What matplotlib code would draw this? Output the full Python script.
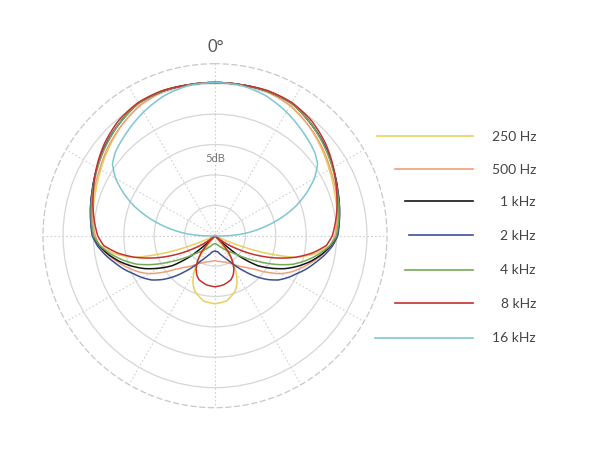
import numpy as np
import matplotlib
matplotlib.use("Agg")
import matplotlib.pyplot as plt
from matplotlib.lines import Line2D

# ---------------- data (dB, one half of the symmetric pattern, 0..180 deg) -------------
angles = [0, 10, 20, 30, 40, 50, 60, 70, 80, 90, 95, 100, 105, 110, 115, 120,
          125, 130, 135, 140, 145, 150, 155, 160, 170, 180]

db_250 = [0.2, 0.2, 0.2, -0.2, -1.2, -2.3, -3.3, -4.1, -4.6, -5.1, -6.1, -8.1, -11.2,
          -17.6, -25, -25, -25, -25, -25, -25, -20.1, -18.1, -16.4, -15.3, -14.1, -13.8]
db_500 = [0.2, 0.2, 0.2, -0.3, -1.2, -2.1, -3.1, -3.8, -4.5, -5.3, -5.9, -7.1, -8.4,
          -9.7, -11.0, -12.5, -14.5, -16.4, -17.6, -18.4, -19.1, -19.7, -20.1, -20.4, -20.7, -20.9]
db_1k = [0.2, 0.2, 0.3, 0.2, -0.7, -1.6, -2.6, -3.5, -4.2, -4.9, -5.9, -7.2, -8.7,
         -10.4, -12.2, -14.3, -16.4, -19.7, -25, -25, -25, -25, -25, -25, -25, -25]
db_2k = [0.2, 0.2, 0.3, 0.2, -0.7, -1.6, -2.6, -3.5, -4.2, -4.8, -5.6, -6.7, -7.9,
         -9.0, -10.2, -11.2, -12.3, -13.8, -15.5, -17.3, -18.8, -20.1, -20.9, -21.5, -22.3, -22.5]
db_4k = [0.2, 0.2, 0.3, 0.2, -0.7, -1.7, -2.7, -3.6, -4.3, -5.0, -6.0, -7.6, -9.4,
         -11.3, -13.8, -16.4, -18.4, -20.1, -21.1, -21.7, -22.3, -22.7, -23.0, -23.3, -23.6, -23.7]
db_8k = [0.2, 0.2, 0.4, 0.3, -0.3, -1.3, -2.5, -3.7, -4.7, -5.7, -6.6, -8.7, -11.3,
         -14.3, -17.4, -20.4, -22.7, -25, -25, -21.7, -20.1, -18.8, -17.9, -17.3, -16.8, -16.6]

angles_16k = [0, 10, 20, 30, 40, 50, 55, 60, 65, 70, 75, 80, 85, 90, 95, 180]
db_16k = [0.2, 0.1, -0.5, -1.5, -2.6, -3.6, -4.4, -6.1, -8.4, -10.9, -13.8, -16.8,
          -19.7, -23.0, -25, -25]

labels = ["250 Hz", "500 Hz", "1 kHz", "2 kHz", "4 kHz", "8 kHz", "16 kHz"]
series = [(angles, db_250), (angles, db_500), (angles, db_1k), (angles, db_2k),
          (angles, db_4k), (angles, db_8k), (angles_16k, db_16k)]
colors = ["#e8cf62", "#f0a078", "#151515", "#3d4f93", "#74a957", "#c4312e", "#7fc6d3"]

ring_levels = [-20, -15, -10, -5, 0]
r_min, r_max = -25, 3.3

# ---------------- figure ----------------
W, H = 607, 456
fig = plt.figure(figsize=(W / 100, H / 100), dpi=100)
cx, cy, R = 215, 456 - 236.7, 172
ax = fig.add_axes([(cx - R) / W, (cy - R) / H, 2 * R / W, 2 * R / H], projection="polar")
ax.set_theta_zero_location("N")
ax.set_theta_direction(-1)
ax.set_rlim(r_min, r_max)
ax.set_rgrids(ring_levels, labels=[""] * len(ring_levels))
ax.set_thetagrids(np.arange(0, 360, 30), labels=[""] * 12)
ax.yaxis.grid(True, color="#d6d6d6", linewidth=0.9, linestyle="-")
ax.xaxis.grid(True, color="#d0d0d0", linewidth=0.8, linestyle=(0, (1.5, 2)))
ax.spines["polar"].set_color("#c8c8c8")
ax.spines["polar"].set_linewidth(0.9)
ax.spines["polar"].set_linestyle((0, (4, 3)))
ax.set_facecolor("white")

for (ang, vals), col in zip(series, colors):
    a = np.asarray(ang, float)
    v = np.asarray(vals, float)
    th = np.deg2rad(np.concatenate([a, 360 - a[-2::-1]]))
    rv = np.concatenate([v, v[-2::-1]])
    ln, = ax.plot(th, rv, color=col, linewidth=1.1, solid_joinstyle="round")
    ln.get_path()._interpolation_steps = 12

fig.text(216 / W, 1 - 47 / H, "0°", ha="center", va="center", fontsize=12,
         color="#555555", family="Lato")
fig.text(215 / W, 1 - 158 / H, "5dB", ha="center", va="center", fontsize=8,
         color="#777777", family="Lato")

# legend
leg_y = [136.7, 169.5, 202, 236, 270.5, 303.5, 338.5]
leg_x0 = [376.5, 395, 405, 408.5, 405, 395, 375]
for lab, col, y, x0 in zip(labels, colors, leg_y, leg_x0):
    fig.add_artist(Line2D([x0 / W, 472.5 / W], [1 - y / H, 1 - y / H], color=col,
                          linewidth=1.2, transform=fig.transFigure))
    fig.text(536 / W, 1 - y / H, lab, ha="right", va="center", fontsize=10,
             color="#444444", family="Lato")

fig.savefig("out.png", dpi=100, facecolor="white")
